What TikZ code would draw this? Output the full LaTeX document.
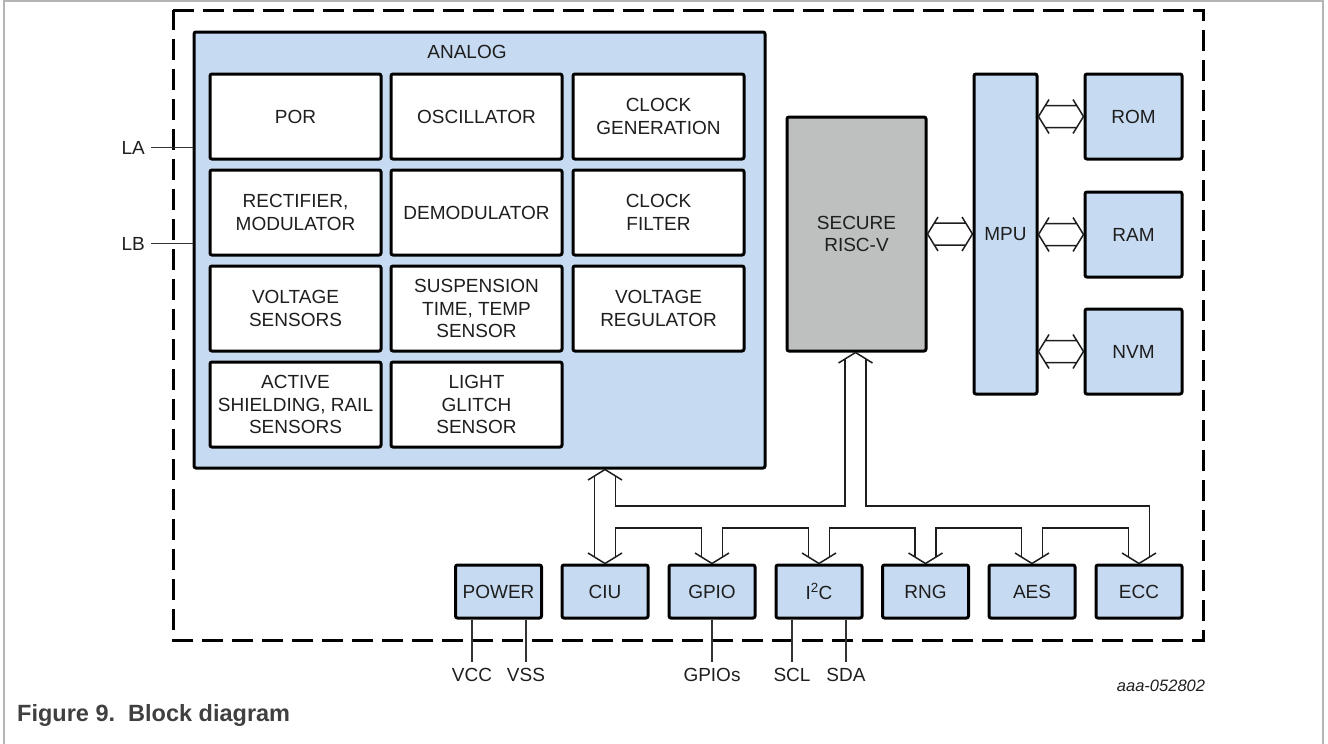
\documentclass[tikz,border=0pt]{standalone}
\usepackage{fontspec}
\setmainfont{Liberation Sans}
\usetikzlibrary{calc}
\definecolor{boxblue}{HTML}{C6DAF1}
\definecolor{cpugray}{HTML}{BEBFBF}
\definecolor{txt}{HTML}{1E1E1E}
\definecolor{capgray}{HTML}{404040}
\definecolor{framegray}{HTML}{B4B4B4}
\definecolor{pinline}{HTML}{333333}
\newcommand\lblfont{\fontsize{19}{22.5}\selectfont}
\tikzset{
  blk/.style={draw=black, line width=3pt, rounded corners=2pt, inner sep=0pt,
    text=txt, align=center, font=\lblfont},
  ablk/.style={blk, fill=white, minimum width=171pt, minimum height=85pt},
  mblk/.style={blk, fill=boxblue, minimum width=97pt, minimum height=85pt},
  pblk/.style={blk, fill=boxblue, minimum width=86pt, minimum height=53pt},
  busline/.style={draw=txt, line width=1.5pt},
  pinwire/.style={draw=pinline, line width=1.5pt},
  pinlbl/.style={inner sep=0pt, text=txt, font=\lblfont},
}
% hollow double-headed horizontal bus arrow, #1 = left tip, #2 = right tip
\newcommand\hbus[2]{%
  \draw[busline] ($(#1)+(10.5,-17)$) -- (#1) -- ($(#1)+(10.5,17)$)
    ($(#2)+(-10.5,-17)$) -- (#2) -- ($(#2)+(-10.5,17)$)
    ($(#1)+(6.8,-11)$) -- ($(#2)+(-6.8,-11)$)
    ($(#1)+(6.8,11)$) -- ($(#2)+(-6.8,11)$);}
\newcommand\headdown[1]{\draw[busline] ($(#1)+(-17,-10.5)$) -- (#1) -- ($(#1)+(17,-10.5)$);}
\newcommand\headup[1]{\draw[busline] ($(#1)+(-17,10.5)$) -- (#1) -- ($(#1)+(17,10.5)$);}
% inner bus segment between the right leg of #1 and the left leg of #2
\newcommand\innerseg[2]{%
  \coordinate (sp) at ($(#1.north)+(10.5,-6.8)$);
  \coordinate (tp) at ($(#2.north)+(-10.5,-6.8)$);
  \draw[busline] (sp) -- (sp |- ib) -- (tp |- ib) -- (tp);}
\begin{document}
\begin{tikzpicture}[x=1pt,y=-1pt]
\useasboundingbox (0,0) rectangle (1328,744);
% outer frame
\draw[framegray, line width=1.5pt] (4,744) -- (4,1) -- (1323,1) -- (1323,744);
% chip boundary
\draw[line width=3pt, dash pattern=on 21pt off 9pt] (173,10) -- (1203,10) -- (1203,640) -- (173,640) -- cycle;

% analog block
\node[blk, fill=boxblue, minimum width=571pt, minimum height=436pt] (analog) at (479.5,250) {};
\node[pinlbl] (analogt) at (467,52) {ANALOG};
\node[ablk] (por) at (295.5,116.5) {POR};
\node[ablk] (osc) at (476.5,116.5) {OSCILLATOR};
\node[ablk] (clkgen) at (658.5,116.5) {CLOCK\\GENERATION};
\node[ablk] (rect) at (295.5,212.5) {RECTIFIER,\\MODULATOR};
\node[ablk] (demod) at (476.5,212.5) {DEMODULATOR};
\node[ablk] (clkfil) at (658.5,212.5) {CLOCK\\FILTER};
\node[ablk] (vsens) at (295.5,308.5) {VOLTAGE\\SENSORS};
\node[ablk] (susp) at (476.5,308.5) {SUSPENSION\\TIME, TEMP\\SENSOR};
\node[ablk] (vreg) at (658.5,308.5) {VOLTAGE\\REGULATOR};
\node[ablk] (shield) at (295.5,404.5) {ACTIVE\\SHIELDING, RAIL\\SENSORS};
\node[ablk] (light) at (476.5,404.5) {LIGHT\\GLITCH\\SENSOR};

% CPU, MPU, memories
\node[blk, fill=cpugray, minimum width=139pt, minimum height=234pt] (risc) at (856.5,234) {SECURE\\RISC-V};
\node[blk, fill=boxblue, minimum width=63pt, minimum height=320pt] (mpu) at (1005.5,234) {MPU};
\node[mblk] (rom) at (1133.5,116.5) {ROM};
\node[mblk] (ram) at (1133.5,234.5) {RAM};
\node[mblk] (nvm) at (1133.5,351.5) {NVM};

% peripherals
\node[pblk] (power) at (498.5,591.5) {POWER};
\node[pblk] (ciu) at (605,591.5) {CIU};
\node[pblk] (gpio) at (712,591.5) {GPIO};
\node[pblk] (i2c) at (819,591.5) {I\textsuperscript{2}C};
\node[pblk] (rng) at (925.5,591.5) {RNG};
\node[pblk] (aes) at (1032,591.5) {AES};
\node[pblk] (ecc) at (1139,591.5) {ECC};

% horizontal bus arrows
\hbus{risc.east}{mpu.west}
\coordinate (m1) at (mpu.east |- rom.west);
\coordinate (m2) at (mpu.east |- ram.west);
\coordinate (m3) at (mpu.east |- nvm.west);
\hbus{m1}{rom.west}
\hbus{m2}{ram.west}
\hbus{m3}{nvm.west}

% peripheral bus
\coordinate (ah) at (analog.south -| ciu.north);
\coordinate (rh) at ($(risc.south)+(-1,0)$);
\path (ciu.north) ++(0,-57.5) coordinate (ob) ++(0,22) coordinate (ib);
\headup{ah}
\headup{rh}
\foreach \p in {ciu,gpio,i2c,rng,aes,ecc} {\headdown{\p.north}}
\coordinate (aL) at ($(ah)+(-10.5,6.8)$);
\coordinate (aR) at ($(ah)+(10.5,6.8)$);
\coordinate (rL) at ($(rh)+(-10.5,6.8)$);
\coordinate (rR) at ($(rh)+(10.5,6.8)$);
\coordinate (cL) at ($(ciu.north)+(-10.5,-6.8)$);
\coordinate (eR) at ($(ecc.north)+(10.5,-6.8)$);
\draw[busline] (aL) -- (cL);
\draw[busline] (aR) -- (aR |- ob) -- (rL |- ob) -- (rL);
\draw[busline] (rR) -- (rR |- ob) -- (eR |- ob) -- (eR);
\innerseg{ciu}{gpio}
\innerseg{gpio}{i2c}
\innerseg{i2c}{rng}
\innerseg{rng}{aes}
\innerseg{aes}{ecc}

% LA / LB pins
\coordinate (la) at ($(analog.north west)+(0,117)$);
\coordinate (lb) at ($(analog.north west)+(0,213)$);
\draw[pinwire] (la) -- ++(-42,0) node[pinlbl, anchor=east, xshift=-5pt] (lat) {LA};
\draw[pinwire] (lb) -- ++(-42,0) node[pinlbl, anchor=east, xshift=-5pt] (lbt) {LB};

% bottom pins
\draw[pinwire] ($(power.south)+(-26.5,0)$) -- ++(0,42) node[pinlbl, anchor=north, yshift=-5.5pt] (vcc) {VCC};
\draw[pinwire] ($(power.south)+(27.5,0)$) -- ++(0,42) node[pinlbl, anchor=north, yshift=-5.5pt] (vss) {VSS};
\draw[pinwire] (gpio.south) -- ++(0,42) node[pinlbl, anchor=north, yshift=-5.5pt] (gpios) {GPIOs};
\draw[pinwire] ($(i2c.south)+(-27,0)$) -- ++(0,42) node[pinlbl, anchor=north, yshift=-5.5pt] (scl) {SCL};
\draw[pinwire] ($(i2c.south)+(27,0)$) -- ++(0,42) node[pinlbl, anchor=north, yshift=-5.5pt] (sda) {SDA};

% labels
\node[inner sep=0pt, text=txt, font=\fontsize{16.5}{20}\selectfont\itshape] (code) at (1161,686) {aaa-052802};
\node[anchor=west, inner sep=0pt, text=capgray, font=\fontsize{23.5}{27}\selectfont\bfseries] (caption) at (17,715) {Figure 9.\ \ Block diagram};
\end{tikzpicture}
\end{document}
